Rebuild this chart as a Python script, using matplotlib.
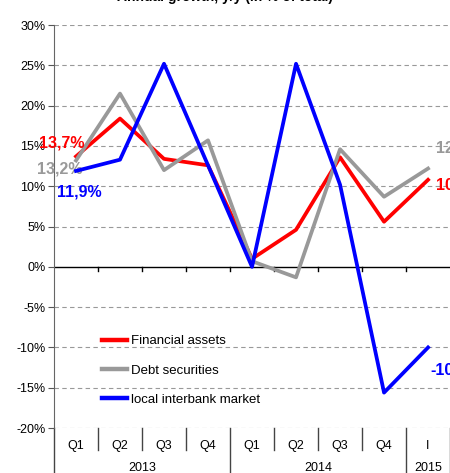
import numpy as np
import matplotlib
matplotlib.use('Agg')
import matplotlib.pyplot as plt
from matplotlib.transforms import blended_transform_factory

plt.rcParams['font.family'] = ['Liberation Sans', 'DejaVu Sans']

quarters = ['Q1', 'Q2', 'Q3', 'Q4', 'Q1', 'Q2', 'Q3', 'Q4', 'I']
years = ['2013', '2014', '2015']
year_len = [4, 4, 1]

financial_assets = [13.7, 18.4, 13.4, 12.6, 1.0, 4.6, 13.6, 5.6, 10.8]
debt_securities = [13.2, 21.5, 12.0, 15.7, 0.7, -1.3, 14.6, 8.7, 12.2]
interbank = [11.9, 13.3, 25.2, 12.6, 0.0, 25.2, 10.2, -15.6, -10.0]

RED = '#ff0000'
GRAY = '#999999'
BLUE = '#0000ff'

fig = plt.figure(figsize=(4.5, 4.73), dpi=100)
ax = fig.add_axes([0.12, 0.095, 0.885, 0.852])

x = np.arange(len(quarters))
ax.plot(x, financial_assets, color=RED, lw=2.7, label='Financial assets', zorder=3)
ax.plot(x, debt_securities, color=GRAY, lw=2.7, label='Debt securities', zorder=3)
ax.plot(x, interbank, color=BLUE, lw=2.7, label='local interbank market', zorder=4)

ax.set_xlim(-0.5, len(quarters) - 0.45)
ax.set_ylim(-20, 30)
yt = np.arange(-20, 31, 5)
ax.set_yticks(yt)
ax.set_yticklabels([f'{v}%' for v in yt], fontsize=9)
ax.tick_params(axis='y', length=4, color='#555555', pad=2)
for v in yt:
    if v != 0:
        ax.axhline(v, color='#999999', lw=0.8, ls=(0, (4, 3)), zorder=1)
ax.axhline(0, color='black', lw=1, zorder=2)

for s in ['top', 'right', 'bottom']:
    ax.spines[s].set_visible(False)
ax.spines['left'].set_color('#666666')
ax.spines['left'].set_bounds(-20, 30)
ax.set_xticks([])

# small ticks on the zero line between categories
for b in np.arange(0.5, len(quarters) - 0.5, 1):
    ax.plot([b, b], [0, -0.5], color='black', lw=1, zorder=2)

# category labels below the plot
tr = blended_transform_factory(ax.transData, ax.transAxes)
for i, q in enumerate(quarters):
    ax.text(i, -0.045, q, transform=tr, ha='center', va='center', fontsize=9)
year_edges = np.cumsum([0] + year_len) - 0.5
for j, yname in enumerate(years):
    ax.text((year_edges[j] + year_edges[j + 1]) / 2, -0.1, yname, transform=tr,
            ha='center', va='center', fontsize=9)
for b in np.arange(-0.5, len(quarters) + 0.5, 1):
    if b in year_edges:
        ax.plot([b, b], [0, -0.12], transform=tr, color='#444444', lw=1, clip_on=False)
    else:
        ax.plot([b, b], [0, -0.055], transform=tr, color='#444444', lw=1, clip_on=False)

# end labels
ax.text(-0.32, 15.4, '13,7%', color=RED, fontsize=11.5,
        fontweight='bold', ha='center', va='center')
ax.text(-0.36, 12.2, '13,2%', color=GRAY, fontsize=11.5,
        fontweight='bold', ha='center', va='center')
ax.text(-0.44, 9.3, '11,9%', color=BLUE, fontsize=11.5,
        fontweight='bold', ha='left', va='center')
last = len(quarters) - 1
ax.text(last + 0.18, 14.7, '12,2%', color=GRAY, fontsize=11.5,
        fontweight='bold', ha='left', va='center', clip_on=False)
ax.text(last + 0.18, 10.2, '10,8%', color=RED, fontsize=11.5,
        fontweight='bold', ha='left', va='center', clip_on=False)
ax.text(last + 0.06, -12.8, '-10,0%', color=BLUE, fontsize=11.5,
        fontweight='bold', ha='left', va='center', clip_on=False)

leg = ax.legend(loc='lower left', bbox_to_anchor=(0.09, 0.025), frameon=False,
                fontsize=9.5, handlelength=1.9, handletextpad=0.3, labelspacing=1.3)
for h in leg.get_lines():
    h.set_linewidth(3.2)

fig.text(0.5, 1 - 1 / 473, 'Annual growth, y/y (in % of total)', ha='center',
         va='baseline', fontsize=10, fontweight='bold')

fig.savefig('out.png', dpi=100)
